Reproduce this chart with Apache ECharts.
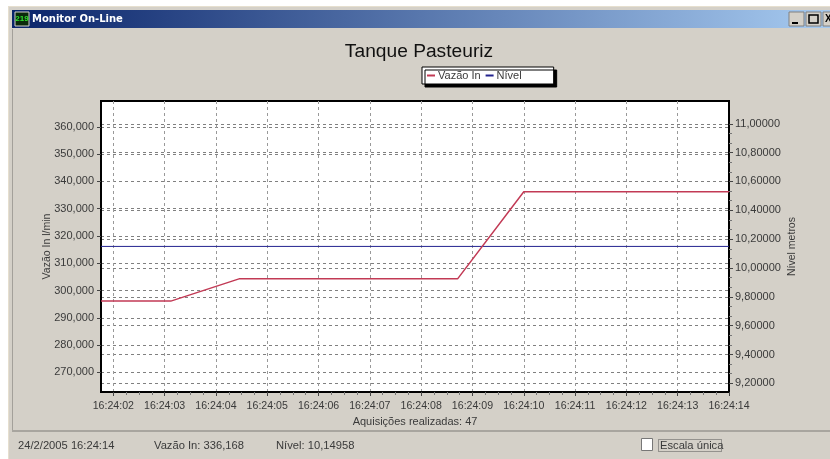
<!DOCTYPE html>
<html>
<head>
<meta charset="utf-8">
<title>Monitor On-Line</title>
<script src="https://cdn.jsdelivr.net/npm/echarts@6/dist/echarts.min.js"></script>
<style>
  html, body { margin: 0; padding: 0; background: #fff; }
  #chart { width: 830px; height: 459px; }
</style>
</head>
<body>
<div id="chart"></div>
<script>
// tick labels
var timeLabels = ['16:24:02', '16:24:03', '16:24:04', '16:24:05', '16:24:06', '16:24:07', '16:24:08',
  '16:24:09', '16:24:10', '16:24:11', '16:24:12', '16:24:13', '16:24:14']
var timeTicks = [0, 1, 2, 3, 4, 5, 6, 7, 8, 9, 10, 11, 12]
var vazaoTicks = [270, 280, 290, 300, 310, 320, 330, 340, 350, 360]
var nivelTicks = [9.2, 9.4, 9.6, 9.8, 10, 10.2, 10.4, 10.6, 10.8, 11]

// seconds after 16:24:02
var vazaoTimes = [-0.24, 1.12, 2.45, 6.71, 8, 12]
var vazaoValues = [296.1, 296.1, 304.25, 304.25, 336.168, 336.168]
var nivelTimes = [-0.24, 12]
var nivelValues = [10.14958, 10.14958]

var pairs = function(xs, ys) {
  return xs.map(function(x, i) { return [x, ys[i]] })
}
// small ticks between the labelled ones
var between = function(ticks, parts) {
  var out = []
  for (var i = 0; i < ticks.length - 1; i++) {
    for (var j = 1; j < parts; j++) {
      out.push(ticks[i] + (ticks[i + 1] - ticks[i]) * j / parts)
    }
  }
  return out
}
var font = '"Liberation Sans", Arial, sans-serif'
var textColor = '#3a3a3a'
var hLine = { show: true, lineStyle: { color: '#808080', width: 1, type: [3, 3] } }
var vLine = { show: true, lineStyle: { color: '#999', width: 1, type: [3, 3] } }

function statusText(x, text) {
  return { type: 'text', x: x, y: 446, style: { text: text, font: '11.2px ' + font, fill: textColor, verticalAlign: 'middle' } }
}

var chart = echarts.init(document.getElementById('chart'), null, { renderer: 'canvas' })
chart.setOption({
  animation: false,
  backgroundColor: '#fff',
  title: {
    text: 'Tanque Pasteuriz',
    left: 414,
    top: 37,
    textAlign: 'center',
    textStyle: { fontFamily: font, fontSize: 19.2, fontWeight: 'normal', color: '#111' }
  },
  legend: {
    left: 422,
    top: 67,
    padding: [3, 32, 3, 5],
    itemGap: 5,
    itemWidth: 8,
    itemHeight: 2,
    icon: 'rect',
    backgroundColor: '#fff',
    borderColor: '#000',
    borderWidth: 1,
    shadowColor: '#000',
    shadowBlur: 0,
    shadowOffsetX: 3,
    shadowOffsetY: 3,
    textStyle: { fontFamily: font, fontSize: 11, color: textColor, padding: [0, 0, 0, -2] },
    data: ['Vazão In', 'Nível']
  },
  grid: {
    left: 101,
    right: 101,
    top: 101,
    bottom: 67,
    show: true,
    backgroundColor: '#fff',
    borderColor: '#000',
    borderWidth: 2
  },
  xAxis: [{
    type: 'value',
    min: -0.24,
    max: 12,
    name: 'Aquisições realizadas: 47',
    nameLocation: 'middle',
    nameGap: 24,
    nameTextStyle: { fontFamily: font, fontSize: 11, color: textColor },
    axisLine: { show: true, onZero: false, lineStyle: { color: '#000', width: 2 } },
    axisTick: { show: true, length: 4, customValues: timeTicks, lineStyle: { color: '#444' } },
    axisLabel: {
      customValues: timeTicks,
      margin: 9,
      fontFamily: font,
      fontSize: 10.6,
      color: textColor,
      formatter: function(v) { return timeLabels[timeTicks.indexOf(v)] }
    },
    splitLine: vLine
  }, {
    // only carries the small ticks
    type: 'value',
    position: 'bottom',
    min: -0.24,
    max: 12,
    axisLine: { show: false, onZero: false },
    axisTick: { show: true, length: 3, customValues: between(timeTicks, 4), lineStyle: { color: '#777' } },
    axisLabel: { show: false },
    splitLine: { show: false }
  }],
  yAxis: [{
    type: 'value',
    min: 262.79,
    max: 369.44,
    name: 'Vazão In l/min',
    nameLocation: 'middle',
    nameGap: 48,
    nameMoveOverlap: false,
    nameTextStyle: { fontFamily: font, fontSize: 10.5, color: textColor },
    axisLine: { show: true, onZero: false, lineStyle: { color: '#000', width: 2 } },
    axisTick: { show: true, length: 4, customValues: vazaoTicks, lineStyle: { color: '#444' } },
    axisLabel: {
      customValues: vazaoTicks,
      margin: 7,
      fontFamily: font,
      fontSize: 11,
      color: textColor,
      formatter: function(v) { return v.toFixed(3).replace('.', ',') }
    },
    splitLine: hLine
  }, {
    type: 'value',
    min: 9.14,
    max: 11.158,
    position: 'right',
    name: 'Nível metros',
    nameLocation: 'middle',
    nameGap: 58,
    nameRotate: 90,
    nameMoveOverlap: false,
    nameTextStyle: { fontFamily: font, fontSize: 10.5, color: textColor },
    axisLine: { show: true, onZero: false, lineStyle: { color: '#000', width: 2 } },
    axisTick: { show: true, length: 4, customValues: nivelTicks, lineStyle: { color: '#444' } },
    axisLabel: {
      customValues: nivelTicks,
      margin: 6,
      fontFamily: font,
      fontSize: 11,
      color: textColor,
      formatter: function(v) { return v.toFixed(5).replace('.', ',') }
    },
    splitLine: hLine
  }, {
    // only carries the small ticks
    type: 'value',
    position: 'right',
    min: 9.14,
    max: 11.158,
    axisLine: { show: false, onZero: false },
    axisTick: { show: true, length: 3, customValues: between(nivelTicks, 3), lineStyle: { color: '#777' } },
    axisLabel: { show: false },
    splitLine: { show: false }
  }],
  series: [{
    name: 'Vazão In',
    type: 'line',
    yAxisIndex: 0,
    data: pairs(vazaoTimes, vazaoValues),
    symbol: 'none',
    z: 5,
    itemStyle: { color: '#c23a55' },
    lineStyle: { color: '#c23a55', width: 1.5 }
  }, {
    name: 'Nível',
    type: 'line',
    yAxisIndex: 1,
    data: pairs(nivelTimes, nivelValues),
    symbol: 'none',
    z: 4,
    itemStyle: { color: '#23238f' },
    lineStyle: { color: '#23238f', width: 1 }
  }],
  graphic: [
    // window chrome
    { type: 'rect', z: -10, shape: { x: 9, y: 7, width: 821, height: 452 }, style: { fill: '#d4d0c8' } },
    { type: 'rect', z: -9, shape: { x: 8, y: 6, width: 822, height: 1 }, style: { fill: '#e6dfcf' } },
    { type: 'rect', z: -9, shape: { x: 8, y: 6, width: 1, height: 453 }, style: { fill: '#e6dfcf' } },
    { type: 'rect', z: -9, shape: { x: 12, y: 29, width: 1, height: 401 }, style: { fill: '#a3a09a' } },
    {
      type: 'rect',
      z: -8,
      shape: { x: 12, y: 10, width: 818, height: 18 },
      style: {
        fill: new echarts.graphic.LinearGradient(0, 0, 1, 0, [
          { offset: 0, color: '#0a246a' },
          { offset: 1, color: '#a6caf0' }
        ])
      }
    },
    { type: 'rect', z: -7, shape: { x: 15, y: 12, width: 14, height: 14 }, style: { fill: '#0b2a0b', stroke: '#d4d0c8' } },
    { type: 'text', z: -6, x: 22, y: 19, style: { text: '219', font: 'bold 8px ' + font, fill: '#30e030', align: 'center', verticalAlign: 'middle' } },
    { type: 'text', z: -6, x: 32, y: 19, style: { text: 'Monitor On-Line', font: 'bold 10px "DejaVu Sans", sans-serif', fill: '#fff', verticalAlign: 'middle' } },
    // buttons
    { type: 'rect', z: -6, shape: { x: 789, y: 12, width: 15, height: 14 }, style: { fill: '#d4d0c8', stroke: '#808080' } },
    { type: 'rect', z: -5, shape: { x: 792, y: 22, width: 6, height: 2 }, style: { fill: '#000' } },
    { type: 'rect', z: -6, shape: { x: 806, y: 12, width: 15, height: 14 }, style: { fill: '#d4d0c8', stroke: '#808080' } },
    { type: 'rect', z: -5, shape: { x: 809, y: 15, width: 9, height: 8 }, style: { fill: 'none', stroke: '#000', lineWidth: 1.5 } },
    { type: 'rect', z: -6, shape: { x: 823, y: 12, width: 10, height: 14 }, style: { fill: '#d4d0c8', stroke: '#808080' } },
    { type: 'text', z: -5, x: 825, y: 19, style: { text: 'X', font: 'bold 10px ' + font, fill: '#000', verticalAlign: 'middle' } },
    // status bar
    { type: 'rect', z: -9, shape: { x: 12, y: 430, width: 818, height: 2 }, style: { fill: '#a8a59f' } },
    statusText(18, '24/2/2005 16:24:14'),
    statusText(154, 'Vazão In: 336,168'),
    statusText(276, 'Nível: 10,14958'),
    // checkbox
    { type: 'rect', z: -6, shape: { x: 641.5, y: 438.5, width: 11, height: 12 }, style: { fill: '#fff', stroke: '#777' } },
    { type: 'rect', z: -6, shape: { x: 658.5, y: 439.5, width: 63, height: 12 }, style: { fill: 'none', stroke: '#555', lineDash: [1, 1] } },
    { type: 'text', z: -5, x: 660, y: 446, style: { text: 'Escala única', font: '11.2px ' + font, fill: textColor, verticalAlign: 'middle' } }
  ]
})
</script>
</body>
</html>
